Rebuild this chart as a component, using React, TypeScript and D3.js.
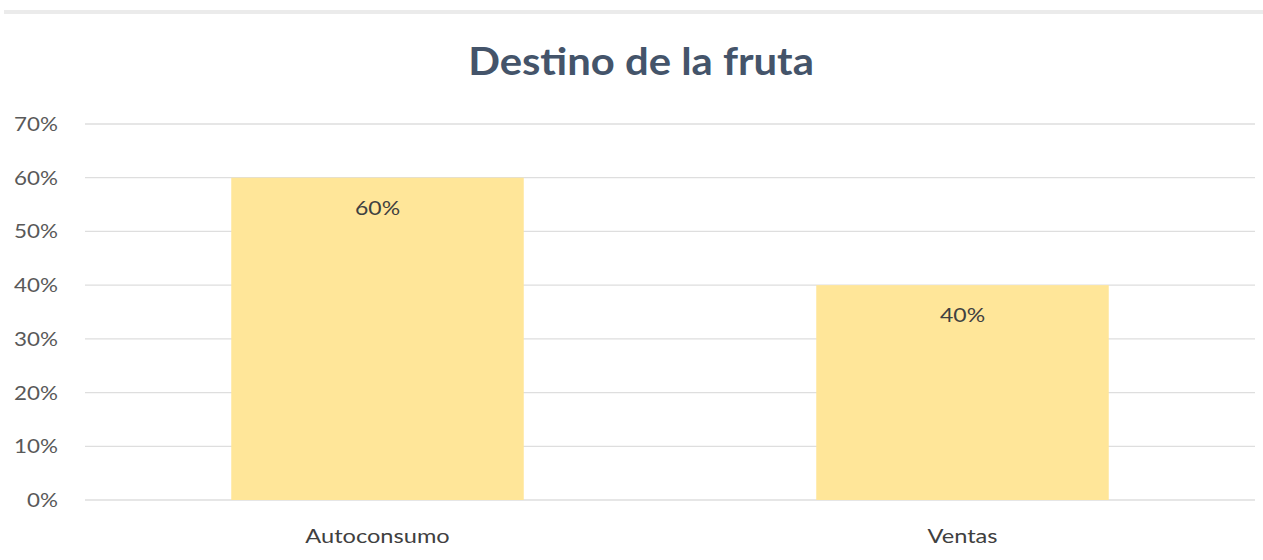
import React, { useEffect, useRef } from 'react';
import * as d3 from 'd3';

const categories = ['Autoconsumo', 'Ventas'];
const values = [0.6, 0.4];
const yTicks = [0, 0.1, 0.2, 0.3, 0.4, 0.5, 0.6, 0.7];
const title = 'Destino de la fruta';

const width = 1263;
const height = 560;
const margin = { top: 124, right: 8, bottom: 60, left: 85 };

const App: React.FC = () => {
  const svgRef = useRef<SVGSVGElement>(null);

  useEffect(() => {
    if (!svgRef.current) return;
    const svg = d3.select(svgRef.current);
    svg.selectAll('*').remove();

    const innerWidth = width - margin.left - margin.right;
    const innerHeight = height - margin.top - margin.bottom;
    const font = "Lato, 'Open Sans', sans-serif";
    const pct = d3.format('.0%');

    // top band of the screenshot
    svg.append('rect')
      .attr('x', 4)
      .attr('y', 10)
      .attr('width', width - 4)
      .attr('height', 4)
      .attr('fill', '#ebebeb');

    // the source picture is stretched a bit sideways, hence the scaleX
    svg.append('text')
      .attr('transform', 'translate(641,75) scale(1.1,1)')
      .attr('text-anchor', 'middle')
      .style('font-family', font)
      .style('font-weight', 700)
      .style('font-size', '38px')
      .style('fill', '#44546a')
      .text(title);

    const x = d3.scaleBand().domain(categories).range([0, innerWidth]).paddingInner(0.5).paddingOuter(0.25);
    const y = d3.scaleLinear().domain([0, 0.7]).range([innerHeight, 0]);

    const g = svg.append('g').attr('transform', `translate(${margin.left},${margin.top})`);

    g.selectAll('.grid')
      .data(yTicks)
      .enter()
      .append('line')
      .attr('x1', 0)
      .attr('x2', innerWidth)
      .attr('y1', d => y(d))
      .attr('y2', d => y(d))
      .attr('stroke', '#dedede')
      .attr('stroke-width', 1.3);

    g.selectAll('.ylab')
      .data(yTicks)
      .enter()
      .append('text')
      .attr('transform', d => `translate(-27,${y(d) + 7}) scale(1.12,1)`)
      .attr('text-anchor', 'end')
      .style('font-family', font)
      .style('font-size', '20px')
      .style('fill', '#595959')
      .text(d => pct(d));

    g.selectAll('.bar')
      .data(values)
      .enter()
      .append('rect')
      .attr('x', (d, i) => x(categories[i]) || 0)
      .attr('width', x.bandwidth())
      .attr('y', d => y(d))
      .attr('height', d => innerHeight - y(d))
      .attr('fill', '#ffe699');

    g.selectAll('.val')
      .data(values)
      .enter()
      .append('text')
      .attr('transform', (d, i) => `translate(${(x(categories[i]) || 0) + x.bandwidth() / 2},${y(d) + 37}) scale(1.15,1)`)
      .attr('text-anchor', 'middle')
      .style('font-family', font)
      .style('font-size', '20px')
      .style('fill', '#404040')
      .text(d => pct(d));

    g.selectAll('.xlab')
      .data(categories)
      .enter()
      .append('text')
      .attr('transform', d => `translate(${(x(d) || 0) + x.bandwidth() / 2},${innerHeight + 43}) scale(1.18,1)`)
      .attr('text-anchor', 'middle')
      .style('font-family', font)
      .style('font-size', '20px')
      .style('fill', '#404040')
      .text(d => d);
  }, []);

  return (
    <svg
      ref={svgRef}
      width={width}
      height={height}
      style={{ position: 'absolute', left: 0, top: 0, background: '#fff' }}
    />
  );
};

export default App;
